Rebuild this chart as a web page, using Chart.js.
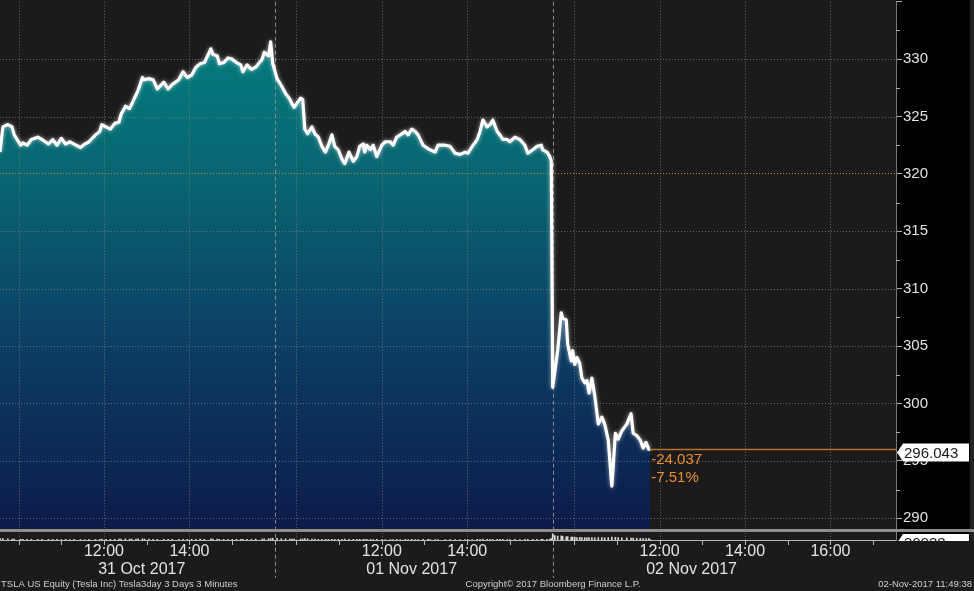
<!DOCTYPE html>
<html>
<head>
<meta charset="utf-8">
<script src="https://cdn.jsdelivr.net/npm/chart.js@4.4.0/dist/chart.umd.min.js"></script>
<style>
  html, body { margin: 0; padding: 0; background: #1c1a1b; }
  #wrap { width: 974px; height: 591px; }
</style>
</head>
<body>
<div id="wrap"><canvas id="tslaChart" width="974" height="591"></canvas></div>
<script>
// 거래시간 기준 분 (10월 31일 9:30 = 0, 하루 390분)
const minutes = [
  4, 8, 15, 21, 24, 33, 36, 42, 48, 57, 63, 72, 78, 84, 90, 96, 102, 108, 117, 123,
  129, 138, 144, 147, 153, 159, 165, 171, 174, 180, 186, 189, 195, 198, 204, 207, 213, 219, 225, 234,
  240, 246, 255, 261, 267, 273, 279, 285, 291, 300, 303, 309, 312, 318, 324, 330, 336, 342, 345, 351,
  357, 363, 372, 375, 381, 384, 387,
  393, 399, 405, 411, 414, 417, 426, 429, 432, 436, 442, 446, 451, 456, 461, 465, 470, 474, 479, 484,
  488, 494, 500, 505, 509, 514, 516, 519, 524, 528, 533, 540, 545, 552, 556, 561, 566, 573, 577, 582,
  587, 591, 598, 605, 608, 615, 619, 629, 636, 643, 650, 657, 661, 667, 674, 678, 682, 688, 692, 696,
  702, 706, 710, 716, 720, 727, 734, 741, 745, 752, 758, 764, 766, 772, 776, 778,
  780, 783, 787, 792, 794, 799, 801, 806, 808, 811, 814, 818, 821, 825, 828, 831, 835, 839, 844, 849,
  853, 858, 863, 868, 872, 877, 884, 890, 893, 898, 903, 907, 911, 915, 917
];

// 종가 (USD)
const prices = [
  321.9, 324.1, 324.3, 324.1, 323.4, 322.5, 322.7, 322.5, 323.0, 323.2, 323.0, 322.6, 323.0, 322.5, 323.1, 322.6, 322.8, 322.6, 322.3, 322.6,
  322.8, 323.4, 323.7, 324.3, 324.1, 323.9, 324.4, 324.5, 325.2, 325.9, 325.7, 326.1, 326.9, 327.3, 328.4, 328.2, 328.3, 328.2, 327.4, 328.0,
  327.4, 327.8, 328.2, 328.9, 328.4, 328.6, 329.3, 329.6, 329.7, 330.9, 330.4, 330.3, 329.6, 329.7, 330.1, 330.0, 329.7, 329.5, 328.9, 329.5,
  329.1, 329.3, 330.0, 330.6, 330.3, 331.5, 329.6,
  328.3, 327.7, 327.0, 326.5, 326.1, 325.8, 326.6, 326.5, 323.9, 323.5, 324.1, 323.5, 323.2, 322.4, 321.9, 322.5, 323.4, 322.4, 322.1, 321.3,
  320.9, 321.9, 321.1, 321.5, 322.4, 322.6, 321.9, 322.5, 322.1, 322.5, 321.5, 322.5, 322.8, 322.8, 322.5, 323.2, 323.4, 323.7, 323.4, 323.9,
  323.7, 323.4, 322.5, 322.2, 322.1, 321.9, 322.5, 322.5, 322.4, 321.8, 321.7, 321.9, 321.8, 322.4, 323.0, 323.7, 324.7, 324.1, 324.3, 324.7,
  323.7, 323.4, 323.0, 323.0, 322.8, 323.2, 323.0, 322.5, 321.8, 322.1, 322.4, 322.5, 322.1, 321.9, 321.5, 321.1,
  301.4, 302.8, 304.6, 307.9, 307.4, 307.3, 305.2, 303.7, 304.6, 303.4, 304.0, 303.5, 302.2, 301.8, 302.0, 300.9, 302.2, 300.7, 298.2, 298.8,
  298.2, 296.8, 292.8, 297.4, 296.9, 297.6, 298.2, 299.1, 297.4, 297.2, 296.8, 296.1, 296.6, 296.0, 296.043
];

// 거래량 (천 주)
const volumes = [
  120, 90, 70, 60, 55, 50, 45, 48, 52, 40, 45, 38, 42, 40, 36, 38, 35, 40, 33, 36,
  38, 45, 50, 55, 48, 42, 50, 55, 62, 70, 60, 58, 65, 70, 80, 60, 55, 50, 52, 48,
  45, 44, 46, 50, 48, 45, 50, 55, 52, 70, 60, 55, 50, 45, 48, 44, 46, 50, 52, 48,
  50, 55, 60, 70, 75, 90, 110,
  110, 85, 70, 62, 58, 55, 60, 58, 90, 75, 62, 55, 50, 48, 52, 45, 50, 44, 42, 48,
  55, 45, 42, 40, 44, 38, 36, 40, 38, 35, 40, 36, 34, 35, 33, 38, 36, 40, 35, 38,
  34, 36, 40, 38, 35, 34, 36, 34, 32, 35, 33, 34, 32, 36, 42, 50, 60, 48, 45, 52,
  44, 40, 38, 36, 35, 38, 36, 40, 45, 42, 40, 44, 48, 52, 60, 95,
  420, 300, 260, 280, 240, 220, 230, 200, 190, 180, 170, 175, 160, 165, 150, 160, 155, 150, 170, 160,
  150, 155, 200, 180, 160, 150, 140, 135, 130, 120, 110, 100, 95, 90, 30.928
];

// 축 눈금
const priceTicks = [290, 295, 300, 305, 310, 315, 320, 325, 330];
const timeTickMinutes = [150, 270, 540, 660, 930, 1050, 1170];
const timeTickLabels = ['12:00', '14:00', '12:00', '14:00', '12:00', '14:00', '16:00'];
const gridMinutes = [30, 150, 270, 420, 540, 660, 810, 930, 1050, 1170];
const sessionBreaks = [390, 780];
const dateLabels = ['31 Oct 2017', '01 Nov 2017', '02 Nov 2017'];
const dateLabelMinutes = [203, 582, 975];
const prevClose = 320.08;
const priceFloor = 289.1;

const FONT = '"Liberation Sans", Arial, sans-serif';

// 블룸버그 화면 틀 그리기
const frame = {
    id: 'frame',
    beforeDraw(chart) {
        const { ctx, chartArea: a, width, height } = chart;
        ctx.save();
        ctx.fillStyle = '#1c1a1b';
        ctx.fillRect(0, 0, width, height);
        ctx.fillStyle = '#000000';
        ctx.fillRect(a.right, 0, 74, a.bottom);
        ctx.fillStyle = '#242223';
        ctx.fillRect(a.right + 74, 0, width - a.right - 74, a.bottom);
        ctx.restore();
    },
    beforeDatasetDraw(chart, args) {
        if (args.index === 1) {
            chart.ctx.save();
            chart.ctx.shadowColor = 'rgba(255,255,255,0.6)';
            chart.ctx.shadowBlur = 4;
        }
    },
    afterDatasetDraw(chart, args) {
        const { ctx, chartArea: a } = chart;
        if (args.index === 1) { ctx.restore(); return; }
        if (args.index !== 0) return;
        const x = chart.scales.x, y = chart.scales.y;
        ctx.save();
        ctx.lineWidth = 1;
        // 가로 점선
        ctx.setLineDash([1, 2]);
        ctx.strokeStyle = 'rgba(130,130,130,0.75)';
        priceTicks.forEach(v => {
            if (v === 320) return;
            const py = Math.round(y.getPixelForValue(v)) + 0.5;
            ctx.beginPath(); ctx.moveTo(a.left, py); ctx.lineTo(a.right, py); ctx.stroke();
        });
        // 세로 점선
        gridMinutes.forEach(m => {
            const px = Math.round(x.getPixelForValue(m)) + 0.5;
            ctx.beginPath(); ctx.moveTo(px, a.top); ctx.lineTo(px, a.bottom); ctx.stroke();
        });
        // 전일 종가
        ctx.strokeStyle = '#c98a34';
        const cy = Math.round(y.getPixelForValue(prevClose)) + 0.5;
        ctx.beginPath(); ctx.moveTo(a.left, cy); ctx.lineTo(a.right, cy); ctx.stroke();
        // 날짜 구분선
        ctx.setLineDash([4, 3]);
        ctx.strokeStyle = '#8c8c8c';
        sessionBreaks.forEach(m => {
            const px = Math.round(x.getPixelForValue(m)) + 0.5;
            ctx.beginPath(); ctx.moveTo(px, a.top); ctx.lineTo(px, a.bottom + 38); ctx.stroke();
        });
        ctx.restore();
    },
    afterDraw(chart) {
        const { ctx, chartArea: a, width } = chart;
        const x = chart.scales.x, y = chart.scales.y;
        const sepY = Math.round(y.getPixelForValue(priceFloor));
        ctx.save();

        // 가격/거래량 구분 띠
        ctx.fillStyle = '#8e8e8e';
        ctx.fillRect(0, sepY, width, 3);

        // 거래량 기준선과 시간 눈금
        ctx.strokeStyle = '#b8b8b8';
        ctx.lineWidth = 1;
        ctx.beginPath(); ctx.moveTo(a.left, a.bottom + 0.5); ctx.lineTo(a.right, a.bottom + 0.5); ctx.stroke();
        const hourMarks = [390, 780, 1170, 1230];
        for (let d = 0; d < 3; d++) {
            for (let k = 0; k < 6; k++) hourMarks.push(d * 390 + 30 + k * 60);
        }
        hourMarks.forEach(m => {
            const px = Math.round(x.getPixelForValue(m)) + 0.5;
            ctx.beginPath(); ctx.moveTo(px, a.bottom + 1); ctx.lineTo(px, a.bottom + 5); ctx.stroke();
        });

        // 오른쪽 축 보조 눈금
        ctx.strokeStyle = '#b0b0b0';
        for (let v = 292.5; v < 335; v += 5) {
            const py = Math.round(y.getPixelForValue(v)) + 0.5;
            ctx.beginPath(); ctx.moveTo(a.right, py); ctx.lineTo(a.right + 4, py); ctx.stroke();
        }
        ctx.beginPath(); ctx.moveTo(a.right, 1.5); ctx.lineTo(a.right + 6, 1.5); ctx.stroke();

        // 현재가 선
        const last = prices.length - 1;
        const lx = x.getPixelForValue(minutes[last]);
        const ly = Math.round(y.getPixelForValue(prices[last])) + 0.5;
        ctx.strokeStyle = '#b8742c';
        ctx.lineWidth = 1.5;
        ctx.beginPath(); ctx.moveTo(lx, ly); ctx.lineTo(a.right, ly); ctx.stroke();

        // 등락
        const chg = prices[last] - prevClose;
        ctx.fillStyle = '#e8912d';
        ctx.font = '15px ' + FONT;
        ctx.textAlign = 'left';
        ctx.textBaseline = 'middle';
        ctx.fillText(chg.toFixed(3), lx + 1, ly + 10);
        ctx.fillText((chg / prevClose * 100).toFixed(2) + '%', lx + 1, ly + 28);

        // 현재가 태그
        drawTag(ctx, a.right + 1, ly + 3, 72, 18, prices[last].toFixed(3));

        // 거래량 태그 (잘림)
        ctx.save();
        ctx.beginPath();
        ctx.rect(a.right, sepY + 3, width - a.right, a.bottom - sepY - 2);
        ctx.clip();
        drawTag(ctx, a.right + 1, a.bottom + 3, 72, 18, String(Math.round(volumes[last] * 1000)));
        ctx.restore();

        // 날짜
        ctx.fillStyle = '#e4e4e4';
        ctx.font = '16px ' + FONT;
        ctx.textAlign = 'center';
        dateLabels.forEach((t, i) => {
            ctx.fillText(t, x.getPixelForValue(dateLabelMinutes[i]), 570);
        });

        // 하단 문구
        ctx.fillStyle = '#cfcfcf';
        ctx.font = '9.5px ' + FONT;
        ctx.textAlign = 'left';
        ctx.fillText('TSLA US Equity (Tesla Inc) Tesla3day 3 Days 3 Minutes', 1, 584);
        ctx.textAlign = 'center';
        ctx.fillText('Copyright\u00a9 2017 Bloomberg Finance L.P.', 553, 584);
        ctx.textAlign = 'right';
        ctx.fillText('02-Nov-2017 11:49:38', 972, 584);
        ctx.restore();
    }
};

function drawTag(ctx, x, yc, w, h, text) {
    ctx.fillStyle = '#ffffff';
    ctx.beginPath();
    ctx.moveTo(x, yc);
    ctx.lineTo(x + 6, yc - h / 2);
    ctx.lineTo(x + w, yc - h / 2);
    ctx.lineTo(x + w, yc + h / 2);
    ctx.lineTo(x + 6, yc + h / 2);
    ctx.closePath();
    ctx.fill();
    ctx.fillStyle = '#1a1a1a';
    ctx.font = '15px ' + FONT;
    ctx.textAlign = 'left';
    ctx.textBaseline = 'middle';
    ctx.fillText(text, x + 7, yc + 1);
}

// 면적 그라데이션
function areaGradient(context) {
    const chart = context.chart;
    if (!chart.chartArea) return '#0c4f6c';
    const y = chart.scales.y;
    const g = chart.ctx.createLinearGradient(0, y.getPixelForValue(331.5), 0, y.getPixelForValue(priceFloor));
    g.addColorStop(0, 'rgb(4,124,126)');
    g.addColorStop(0.3, 'rgb(9,99,112)');
    g.addColorStop(0.62, 'rgb(12,62,100)');
    g.addColorStop(1, 'rgb(12,27,74)');
    return g;
}

const points = minutes.map((m, i) => ({ x: m, y: prices[i] }));
const volPoints = minutes.map((m, i) => ({ x: m, y: volumes[i] }));

const ctx = document.getElementById('tslaChart').getContext('2d');
const tslaChart = new Chart(ctx, {
    type: 'line',
    data: {
        datasets: [{
            data: points,
            order: 3,
            borderWidth: 0,
            pointRadius: 0,
            fill: { value: priceFloor },
            backgroundColor: areaGradient,
        }, {
            data: points,
            order: 1,
            borderColor: '#ffffff',
            borderWidth: 3.2,
            borderJoinStyle: 'round',
            pointRadius: 0,
            tension: 0,
            fill: false,
        }, {
            type: 'bar',
            data: volPoints,
            order: 2,
            yAxisID: 'v',
            barThickness: 1,
            backgroundColor: '#d6d6d6',
        }]
    },
    options: {
        responsive: false,
        animation: false,
        devicePixelRatio: 1,
        layout: { padding: 0 },
        plugins: {
            legend: { display: false },
            tooltip: { enabled: false },
        },
        scales: {
            x: {
                type: 'linear',
                min: 4,
                max: 1262,
                offset: false,
                position: 'bottom',
                afterBuildTicks: s => { s.ticks = timeTickMinutes.map(v => ({ value: v })); },
                afterFit: s => { s.height = 51; },
                grid: { display: false, drawTicks: false },
                border: { display: false },
                ticks: {
                    autoSkip: false,
                    maxRotation: 0,
                    padding: 2,
                    color: '#e4e4e4',
                    font: { family: FONT, size: 16 },
                    callback: (v, i) => timeTickLabels[i],
                }
            },
            y: {
                position: 'right',
                min: 288.1,
                max: 335,
                afterBuildTicks: s => { s.ticks = priceTicks.map(v => ({ value: v })); },
                afterFit: s => { s.width = 78; },
                grid: { drawOnChartArea: false, tickLength: 6, color: '#b0b0b0' },
                border: { color: '#7a7a7a', width: 1 },
                ticks: {
                    padding: 1,
                    color: '#e2e2e2',
                    font: { family: FONT, size: 15, lineHeight: 0.1 },
                }
            },
            v: {
                display: false,
                min: 0,
                max: 36000,
            }
        }
    },
    plugins: [frame]
});
</script>
</body>
</html>
